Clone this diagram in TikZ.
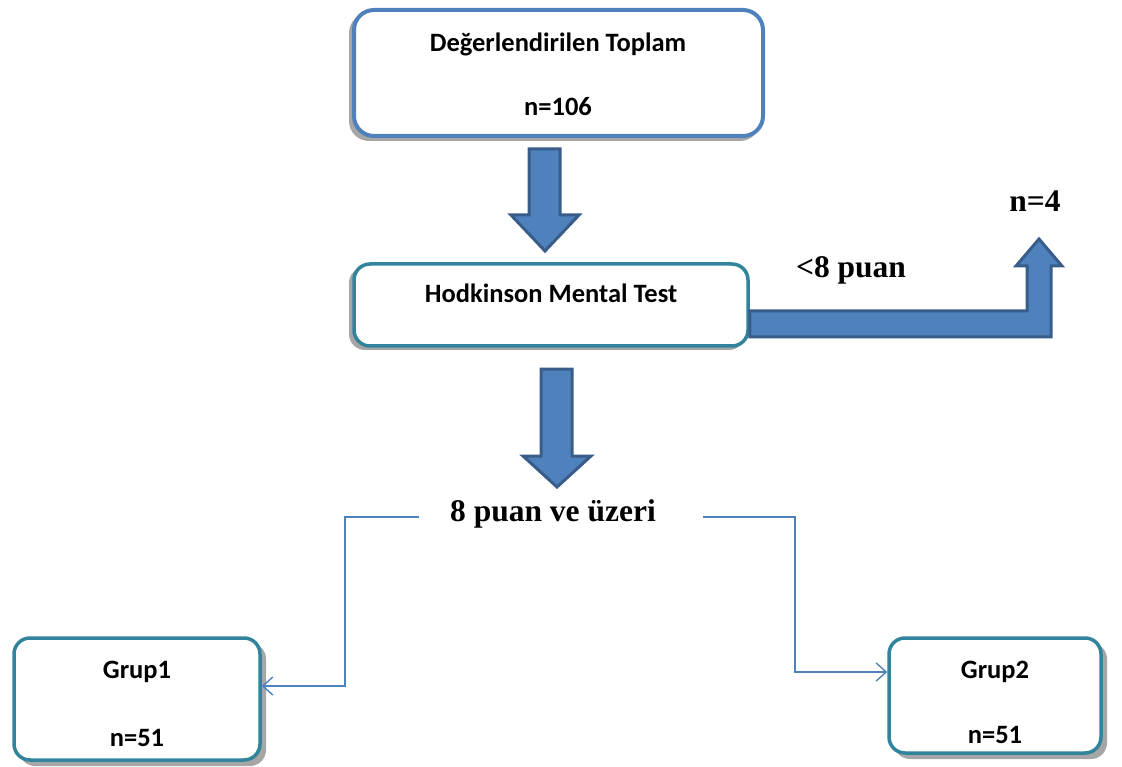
\documentclass[tikz,border=0pt]{standalone}
\usepackage{fontspec}
\setmainfont{Carlito}
\newfontfamily\timesf{Liberation Serif}
\usetikzlibrary{arrows.meta}
\definecolor{boxblue}{HTML}{4F81BD}
\definecolor{arrowedge}{HTML}{385D8A}
\definecolor{teal}{HTML}{31849B}
\definecolor{shadowgray}{HTML}{A6A6A6}
\tikzset{
  bluebox/.style={draw=boxblue, line width=4pt, rounded corners=20pt, fill=white},
  tealbox/.style={draw=teal, line width=3.5pt, rounded corners=16pt, fill=white},
  blockarrow/.style={fill=boxblue, draw=arrowedge, line width=3pt, line join=miter},
  conn/.style={draw=boxblue, line width=1.4pt, -{Straight Barb[length=10pt,width=18pt]}},
  lbl/.style={font=\bfseries\fontsize{26.5}{30}\selectfont, text=black},
  tlbl/.style={font=\timesf\bfseries\fontsize{31.5}{36}\selectfont, text=black}
}
\begin{document}
\begin{tikzpicture}[x=1pt,y=-1pt]
\useasboundingbox (0,0) rectangle (1122,767);
% shadows
\fill[shadowgray, rounded corners=20pt] (349,13) rectangle (760,141);
\fill[shadowgray, rounded corners=16pt] (349,267) rectangle (745,350);
\fill[shadowgray, rounded corners=16pt] (19,643) rectangle (266,766);
\fill[shadowgray, rounded corners=16pt] (894,643) rectangle (1107,759);
% boxes
\node[bluebox, minimum width=409pt, minimum height=126pt, inner sep=0pt] (top) at (558.5,73) {};
\node[lbl] (topa) at (558,44) {Değerlendirilen Toplam};
\node[lbl] (topb) at (558,107) {n=106};
\node[tealbox, minimum width=394pt, minimum height=82pt, inner sep=0pt] (hod) at (551,305) {};
\node[lbl] (hodt) at (551,293) {Hodkinson Mental Test};
\node[tealbox, minimum width=246pt, minimum height=122pt, inner sep=0pt] (g1) at (137,699) {};
\node[lbl] (g1a) at (137,672) {Grup1};
\node[lbl] (g1b) at (137,738) {n=51};
\node[tealbox, minimum width=212pt, minimum height=115pt, inner sep=0pt] (g2) at (995,695.5) {};
\node[lbl] (g2a) at (995,672) {Grup2};
\node[lbl] (g2b) at (995,735) {n=51};
% block arrows
\draw[blockarrow] (529,149) -- (560,149) -- (560,215) -- (579,215) -- (545,251) -- (511,215) -- (529,215) -- cycle;
\draw[blockarrow] (541,369) -- (572,369) -- (572,456) -- (591,456) -- (557,487) -- (523,456) -- (541,456) -- cycle;
\draw[blockarrow] (hod.east |- 0,311) -- (1027,311) -- (1027,266) -- (1016,266) -- (1039,239) -- (1062,266) -- (1051,266) -- (1051,337) -- (hod.east |- 0,337) -- cycle;
% labels
\node[tlbl] (lt8) at (851,270) {<8 puan};
\node[tlbl] (n4) at (1035,201) {n=4};
\node[tlbl, inner xsep=31pt] (mid) at (553,514) {8 puan ve üzeri};
% connectors
\draw[conn] (mid.west |- 0,517) -| (345,686) -- (g1.east |- 0,686);
\draw[conn] ([xshift=16pt]mid.east |- 0,517) -| (795,672) -- (g2.west |- 0,672);
\end{tikzpicture}
\end{document}
